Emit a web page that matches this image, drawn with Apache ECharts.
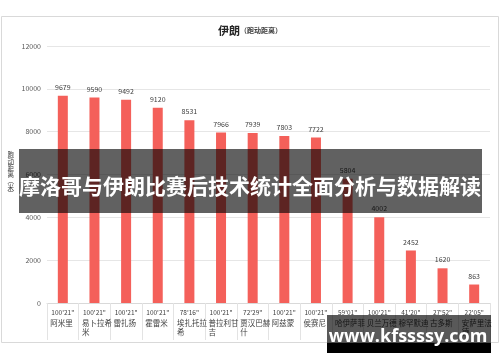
<!DOCTYPE html>
<html>
<head>
<meta charset="utf-8">
<script src="https://cdn.jsdelivr.net/npm/echarts@6/dist/echarts.min.js"></script>
<style>html,body{margin:0;padding:0;background:#fff;}#c{width:500px;height:362px;}</style>
</head>
<body>
<div id="c"></div>
<script>
var names = ['阿米里','易卜拉希米','雷扎扬','霍雷米','埃扎托拉希','普拉利甘吉','贾汉巴赫什','阿兹蒙','侯赛尼','哈伊萨菲','贝兰万德','穆罕默迪','古多斯','安萨里法德'];
var times = ["100'21\"","100'21\"","100'21\"","100'21\"","78'16\"","100'21\"","72'29\"","100'21\"","100'21\"","59'01\"","100'21\"","41'20\"","27'52\"","22'05\""];
var distances = [9679,9590,9492,9120,8531,7966,7939,7803,7722,5804,4002,2452,1620,863];
var yTicks = [0,2000,4000,6000,8000,10000,12000];

var FONT = '"Noto Sans CJK SC", "Noto Sans", sans-serif';
var chart = echarts.init(document.getElementById('c'), null, {renderer:'canvas'});
var cats = names.map(function(n,i){return i;});
chart.setOption({
  animation:false,
  textStyle:{fontFamily:FONT},
  title:{
    text:'{a|伊朗}{b|（跑动距离）}',
    left:'center', top:20,
    textStyle:{rich:{
      a:{fontSize:11,fontWeight:'bold',color:'#262626',fontFamily:FONT},
      b:{fontSize:7,color:'#404040',fontFamily:FONT}
    }}
  },
  grid:{left:47,right:10,top:46,bottom:59,containLabel:false},
  xAxis:{
    type:'category',
    data:cats,
    axisLine:{lineStyle:{color:'#d9d9d9'}},
    axisTick:{show:true,length:37,interval:0,lineStyle:{color:'#e3e3e3'}},
    axisLabel:{
      interval:0, margin:4,
      formatter:function(v){
        var i=+v; var n=names[i];
        var s='{t|'+times[i]+'}\n';
        if(n.length>4){ s+='{n|'+n.slice(0,4)+'}\n{n|'+n.slice(4)+'}'; }
        else s+='{n|'+n+'}';
        return s;
      },
      verticalAlign:'top',
      rich:{
        t:{fontSize:6.5,lineHeight:12,color:'#404040',fontFamily:FONT,width:31,align:'center'},
        n:{fontSize:7.5,lineHeight:9,color:'#404040',fontFamily:FONT,width:28,align:'left',padding:[0,0,0,3]}
      }
    }
  },
  yAxis:{
    type:'value',min:0,max:12000,interval:2000,
    name:'跑\n动\n距\n离\n︵\n米\n︶',
    nameLocation:'middle',nameRotate:0,nameGap:33,
    nameTextStyle:{fontSize:6.5,lineHeight:6.5,color:'#404040',fontFamily:FONT},
    axisLine:{show:false},axisTick:{show:false},
    axisLabel:{fontSize:7,color:'#595959',margin:6,fontFamily:FONT,
      formatter:function(v){return yTicks.indexOf(v)>=0?String(v):'';}},
    splitLine:{lineStyle:{color:'#e6e6e6'}}
  },
  series:[{
    type:'bar',
    data:distances,
    barWidth:10,
    itemStyle:{color:'#f4605a'},
    label:{show:true,position:'top',distance:5,fontSize:7,color:'#404040',fontFamily:FONT}
  }],
  graphic:[
    {type:'rect',shape:{x:1.5,y:16.5,width:497,height:326},style:{fill:'none',stroke:'#d9d9d9',lineWidth:1},z:-1},
    {type:'rect',shape:{x:19,y:149,width:463,height:64},style:{fill:'rgba(0,0,0,0.62)'},z:100},
    {type:'text',x:250,y:186,style:{text:'摩洛哥与伊朗比赛后技术统计全面分析与数据解读',fill:'#ffffff',fontSize:21,fontWeight:'bold',fontFamily:FONT,align:'center',verticalAlign:'middle'},z:101},
    {type:'rect',shape:{x:327,y:315,width:164,height:28},style:{fill:'rgba(0,0,0,0.65)'},z:100},
    {type:'rect',shape:{x:327,y:343,width:164,height:10},style:{fill:'#000000'},z:100},
    {type:'text',x:408,y:337,style:{text:'www.kfssssy.com',fill:'#ffffff',fontSize:18,fontWeight:'bold',fontFamily:'"Open Sans", "DejaVu Sans", sans-serif',align:'center',verticalAlign:'middle'},z:101}
  ]
});
</script>
</body>
</html>
